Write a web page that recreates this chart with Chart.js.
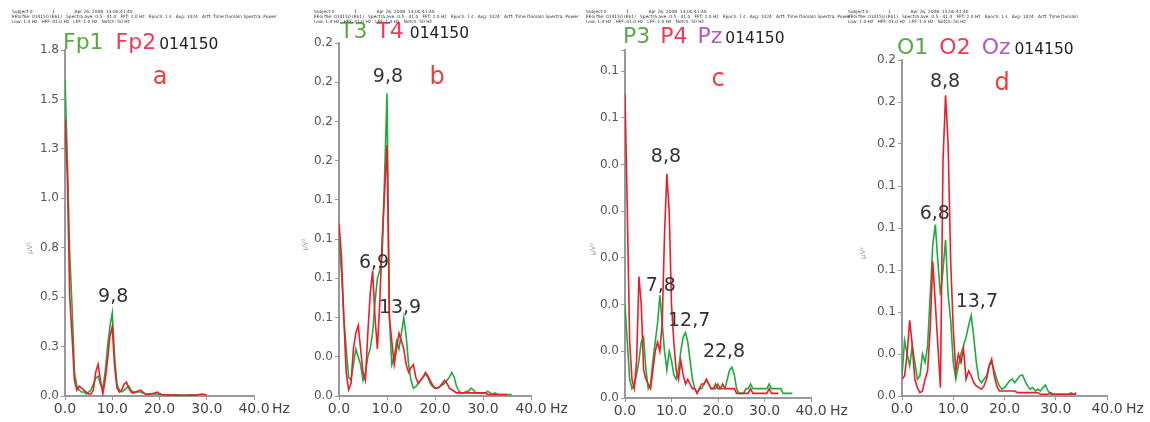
<!DOCTYPE html>
<html>
<head>
<meta charset="utf-8">
<script src="https://cdn.jsdelivr.net/npm/chart.js@4/dist/chart.umd.min.js"></script>
<style>
  body { margin: 0; background: #fff; width: 1150px; height: 422px; overflow: hidden; position: relative; font-family: "DejaVu Sans", sans-serif; }
  .panel { position: absolute; top: 0; height: 422px; }
  .hdr { position: absolute; top: 9px; font-size: 4.4px; line-height: 5px; color: #333; white-space: pre; }
</style>
</head>
<body>
<div class="panel" style="left:0;width:300px"><div class="hdr" style="left:12px">Subject 0              1              Apr 26, 2008  13:00:41:40
EEG file: 014150 (Eb1)   Spectra ave: 0.5 - 41.0   FFT: 2.0 Hz   Epoch: 1 s   Avg: 1024   Artf: Time Domain Spectra: Power
Low: 1.0 Hz   HFF: 41.0 Hz   LFF: 1.0 Hz   Notch: 50 Hz</div><canvas id="pa" width="300" height="422"></canvas></div>
<div class="panel" style="left:285px;width:285px"><div class="hdr" style="left:29px">Subject 0              1              Apr 26, 2008  13:00:41:40
EEG file: 014150 (Eb1)   Spectra ave: 0.5 - 41.0   FFT: 2.0 Hz   Epoch: 1 s   Avg: 1024   Artf: Time Domain Spectra: Power
Low: 1.0 Hz   HFF: 41.0 Hz   LFF: 1.0 Hz   Notch: 50 Hz</div><canvas id="pb" width="285" height="422"></canvas></div>
<div class="panel" style="left:570px;width:290px"><div class="hdr" style="left:16px">Subject 0              1              Apr 26, 2008  13:00:41:40
EEG file: 014150 (Eb1)   Spectra ave: 0.5 - 41.0   FFT: 2.0 Hz   Epoch: 1 s   Avg: 1024   Artf: Time Domain Spectra: Power
Low: 1.0 Hz   HFF: 41.0 Hz   LFF: 1.0 Hz   Notch: 50 Hz</div><canvas id="pc" width="290" height="422"></canvas></div>
<div class="panel" style="left:860px;width:290px"><div class="hdr" style="left:-12px">Subject 0              1              Apr 26, 2008  13:00:41:40
EEG file: 014150 (Eb1)   Spectra ave: 0.5 - 41.0   FFT: 2.0 Hz   Epoch: 1 s   Avg: 1024   Artf: Time Domain
Low: 1.0 Hz   HFF: 41.0 Hz   LFF: 1.0 Hz   Notch: 50 Hz</div><canvas id="pd" width="290" height="422"></canvas></div>

<script>
// frequency bins (Hz)
const freqHz = [0,0.5,1,1.5,2,2.5,3,3.5,4,4.5,5,5.5,6,6.5,7,7.5,8,8.5,9,9.5,
  10,10.5,11,11.5,12,12.5,13,13.5,14,14.5,15,15.5,16,16.5,17,17.5,18,18.5,19,19.5,
  20,20.5,21,21.5,22,22.5,23,23.5,24,24.5,25,25.5,26,26.5,27,27.5,28,28.5,29,29.5,
  30,30.5,31,31.5,32,32.5,33,33.5,34,34.5,35,35.5,36];

const xTickValues = [0, 10, 20, 30, 40];
const xTickLabels = ['0.0', '10.0', '20.0', '30.0', '40.0'];

// y tick labels as printed on each panel
const aTickLabels = ['0.0','0.3','0.5','0.8','1.0','1.3','1.5','1.8'];
const bTickLabels = ['0.0','0.0','0.1','0.1','0.1','0.1','0.2','0.2','0.2','0.2'];
const cTickLabels = ['0.0','0.0','0.0','0.0','0.0','0.0','0.1','0.1',''];
const dTickLabels = ['0.0','0.0','0.1','0.1','0.1','0.1','0.2','0.2','0.2'];

// a: Fp1 / Fp2
const fp1 = [1.60,1.20,0.72,0.45,0.12,0.05,0.03,0.02,0.02,0.01,
  0.02,0.03,0.06,0.09,0.10,0.06,0.04,0.12,0.25,0.35,
  0.42,0.20,0.06,0.03,0.02,0.03,0.04,0.05,0.03,0.02,
  0.02,0.02,0.02,0.015,0.01,0.01,0.012,0.01,0.012,0.01,
  0.008,0.006,0.006,0.005,0.006,0.005,0.006,0.006,0.005,0.004,
  0.004,0.004,0.005,0.006,0.005,0.005,0.004];
const fp2 = [1.40,1.10,0.50,0.30,0.08,0.03,0.05,0.04,0.03,0.02,
  0.01,0.01,0.03,0.12,0.16,0.08,0.01,0.08,0.18,0.30,
  0.35,0.15,0.04,0.02,0.03,0.06,0.07,0.04,0.02,0.015,
  0.02,0.025,0.03,0.02,0.01,0.008,0.01,0.012,0.015,0.02,
  0.012,0.008,0.006,0.005,0.006,0.005,0.004,0.004,0.005,0.004,
  0.003,0.004,0.003,0.004,0.005,0.004,0.006,0.008,0.01,0.008,
  0.005];

// b: T3 / T4
const t3 = [0.10,0.08,0.05,0.03,0.012,0.01,0.02,0.03,0.025,0.02,
  0.01,0.015,0.025,0.03,0.04,0.06,0.075,0.08,0.09,0.14,
  0.193,0.05,0.02,0.025,0.035,0.03,0.04,0.05,0.038,0.02,
  0.01,0.005,0.006,0.008,0.01,0.012,0.014,0.012,0.008,0.006,
  0.005,0.005,0.006,0.007,0.008,0.01,0.012,0.015,0.012,0.006,
  0.003,0.002,0.002,0.003,0.003,0.005,0.004,0.002,0.002,0.002,
  0.002,0.002,0.003,0.002,0.001,0.002,0.001,0.001,0.001,0.001,
  0.001,0.001,0.001];
const t4 = [0.11,0.09,0.05,0.015,0.004,0.008,0.03,0.04,0.045,0.03,
  0.015,0.01,0.04,0.065,0.08,0.05,0.03,0.06,0.10,0.13,
  0.16,0.05,0.035,0.02,0.03,0.04,0.035,0.03,0.02,0.015,
  0.018,0.02,0.012,0.008,0.01,0.012,0.015,0.013,0.01,0.007,
  0.005,0.005,0.006,0.008,0.01,0.008,0.005,0.004,0.003,0.002,
  0.002,0.002,0.002,0.002,0.002,0.002,0.002,0.002,0.002,0.002,
  0.002,0.002,0.001,0.001,0.001,0.001,0.001,0.001,0.001,0.001,
  0.001];

// c: P3 / P4
const p3 = [0.020,0.012,0.004,0.002,0.003,0.005,0.008,0.012,0.013,0.006,
  0.002,0.003,0.008,0.012,0.016,0.022,0.016,0.010,0.006,0.010,
  0.008,0.005,0.004,0.006,0.010,0.013,0.014,0.012,0.008,0.004,
  0.002,0.001,0.002,0.002,0.003,0.004,0.003,0.002,0.002,0.002,
  0.003,0.002,0.002,0.002,0.004,0.006,0.0066,0.005,0.002,0.001,
  0.001,0.001,0.002,0.002,0.003,0.002,0.002,0.002,0.002,0.002,
  0.002,0.002,0.003,0.002,0.002,0.002,0.002,0.002,0.001,0.001,
  0.001,0.001,0.001];
const p4 = [0.065,0.040,0.012,0.004,0.002,0.008,0.026,0.020,0.006,0.004,
  0.003,0.002,0.006,0.010,0.012,0.010,0.016,0.035,0.048,0.040,
  0.020,0.012,0.006,0.004,0.008,0.005,0.003,0.004,0.003,0.002,
  0.002,0.001,0.002,0.003,0.003,0.004,0.003,0.002,0.002,0.003,
  0.002,0.002,0.003,0.002,0.002,0.002,0.002,0.002,0.001,0.001,
  0.001,0.001,0.001,0.001,0.002,0.001,0.001,0.001,0.001,0.001,
  0.001,0.001,0.002,0.001,0.001,0.001,0.001];

// d: O1 / O2
const o1 = [0.012,0.033,0.025,0.018,0.030,0.020,0.010,0.012,0.025,0.020,
  0.030,0.060,0.090,0.102,0.080,0.060,0.075,0.093,0.060,0.045,
  0.020,0.010,0.018,0.025,0.030,0.035,0.042,0.048,0.035,0.020,
  0.010,0.008,0.010,0.012,0.018,0.020,0.015,0.010,0.006,0.004,
  0.005,0.007,0.009,0.010,0.008,0.010,0.012,0.0125,0.009,0.006,
  0.004,0.005,0.003,0.004,0.003,0.005,0.0065,0.003,0.001,0.001,
  0.001,0.001,0.001,0.001,0.001,0.001,0.002,0.001,0.001];
const o2 = [0.010,0.012,0.025,0.045,0.030,0.010,0.005,0.002,0.003,0.010,
  0.015,0.040,0.080,0.055,0.030,0.005,0.140,0.179,0.150,0.080,
  0.040,0.015,0.025,0.020,0.028,0.010,0.015,0.012,0.008,0.006,
  0.005,0.004,0.006,0.010,0.018,0.022,0.012,0.006,0.003,0.003,
  0.003,0.003,0.003,0.003,0.003,0.002,0.002,0.002,0.002,0.002,
  0.002,0.002,0.002,0.002,0.001,0.001,0.001,0.001,0.002,0.001,
  0.001,0.001,0.001,0.001,0.001,0.001,0.001,0.001,0.002];

// peak labels: text, Hz, value
const aPeaks = [['9,8', 10.2, 0.50]];
const bPeaks = [['9,8', 10.2, 0.203], ['6,9', 7.3, 0.085], ['13,9', 12.7, 0.056]];
const cPeaks = [['8,8', 8.8, 0.0516], ['7,8', 7.7, 0.024], ['12,7', 13.8, 0.0165], ['22,8', 21.3, 0.0098]];
const dPeaks = [['8,8', 8.4, 0.187], ['6,8', 6.4, 0.108], ['13,7', 14.6, 0.056]];

const GREEN = '#1fab3c', RED = '#ee1c2a';
const T_GREEN = '#5aa845', T_RED = '#f03a55', T_PURPLE = '#b05bbf';

const textPlugin = {
  id: 'panelText',
  afterDraw(chart, args, o) {
    const ctx = chart.ctx, xs = chart.scales.x, ys = chart.scales.y, ca = chart.chartArea;
    ctx.save();
    ctx.textBaseline = 'middle';
    // channel names
    let x = ca.left + o.titleDx;
    o.titles.forEach(([t, c, size, gap]) => {
      ctx.font = size + 'px "DejaVu Sans"';
      ctx.fillStyle = c;
      ctx.textAlign = 'left';
      ctx.fillText(t, x, o.titleY + (size < 20 ? 2 : 0));
      x += ctx.measureText(t).width + gap;
    });
    // panel letter
    ctx.font = '24px "DejaVu Sans"';
    ctx.fillStyle = '#f03c3c';
    ctx.textAlign = 'center';
    ctx.fillText(o.letter[0], o.letter[1], o.letter[2]);
    // peaks
    ctx.font = '19px "DejaVu Sans"';
    ctx.fillStyle = '#333';
    o.peaks.forEach(([t, hz, v]) => ctx.fillText(t, xs.getPixelForValue(hz), ys.getPixelForValue(v)));
    // Hz unit
    ctx.font = '14px "DejaVu Sans"';
    ctx.fillStyle = '#444';
    ctx.textAlign = 'left';
    ctx.fillText('Hz', xs.getPixelForValue(40) + o.hzDx, ca.bottom + 13);
    // y unit
    ctx.translate(ca.left - o.unitDx, (ca.top + ca.bottom) / 2 + 25);
    ctx.rotate(-Math.PI / 2);
    ctx.font = '7px "DejaVu Sans"';
    ctx.fillStyle = '#999';
    ctx.textAlign = 'center';
    ctx.fillText('\u03bcV\u00b2', 0, 0);
    ctx.restore();
  }
};

function toPoints(vals) {
  return vals.map((v, i) => ({ x: freqHz[i], y: v }));
}

function makePanel(id, box, yMax, yStep, yLabels, green, red, text) {
  const yTickValues = yLabels.map((l, i) => Math.min(i * yStep, yMax));
  new Chart(document.getElementById(id), {
    type: 'line',
    data: {
      datasets: [
        { data: toPoints(red), borderColor: RED, borderWidth: 1.6, pointRadius: 0, tension: 0 },
        { data: toPoints(green), borderColor: GREEN, borderWidth: 1.6, pointRadius: 0, tension: 0 }
      ]
    },
    options: {
      responsive: false,
      animation: false,
      layout: { padding: { left: 0, top: box.top, right: box.w - box.right, bottom: 0 } },
      plugins: { legend: { display: false }, tooltip: { enabled: false }, panelText: text },
      scales: {
        x: {
          type: 'linear', min: 0, max: 40,
          afterBuildTicks: s => { s.ticks = xTickValues.map(v => ({ value: v })); },
          afterFit: s => { s.height = 422 - box.bottom; },
          ticks: { autoSkip: false, maxRotation: 0, padding: 1, color: '#444',
                   font: { family: 'DejaVu Sans', size: 14 },
                   callback: (v, i) => xTickLabels[i] },
          grid: { drawOnChartArea: false, drawTicks: true, tickLength: 4, color: '#999' },
          border: { color: '#999', width: 2 }
        },
        y: {
          min: 0, max: yMax,
          afterBuildTicks: s => { s.ticks = yTickValues.map(v => ({ value: v })); },
          afterFit: s => { s.width = box.left; },
          ticks: { autoSkip: false, padding: 2, color: '#555',
                   font: { family: 'DejaVu Sans', size: 12 },
                   callback: (v, i) => yLabels[i] ?? '' },
          grid: { drawOnChartArea: false, drawTicks: true, tickLength: 4, color: '#999' },
          border: { color: '#999', width: 2 }
        }
      }
    },
    plugins: [textPlugin]
  });
}

makePanel('pa', { w: 300, left: 65, right: 254, top: 50, bottom: 396 }, 1.75, 0.25, aTickLabels, fp1, fp2, {
  titleDx: -2, titleY: 43, unitDx: 35, hzDx: 18, letter: ['a', 160, 78], peaks: aPeaks,
  titles: [['Fp1', T_GREEN, 22, 12], ['Fp2', T_RED, 22, 3], ['014150', '#222', 15.5, 0]]
});
makePanel('pb', { w: 285, left: 54, right: 246, top: 43, bottom: 396 }, 0.225, 0.025, bTickLabels, t3, t4, {
  titleDx: 1, titleY: 32, unitDx: 34, hzDx: 19, letter: ['b', 152, 78], peaks: bPeaks,
  titles: [['T3', T_GREEN, 22, 9], ['T4', T_RED, 22, 6], ['014150', '#222', 15.5, 0]]
});
makePanel('pc', { w: 290, left: 55, right: 241, top: 50, bottom: 398 }, 0.0745, 0.01, cTickLabels, p3, p4, {
  titleDx: -2, titleY: 37, unitDx: 32, hzDx: 19, letter: ['c', 148, 80], peaks: cPeaks,
  titles: [['P3', T_GREEN, 22, 10], ['P4', T_RED, 22, 10], ['Pz', T_PURPLE, 22, 3], ['014150', '#222', 15.5, 0]]
});
makePanel('pd', { w: 290, left: 42, right: 247, top: 60, bottom: 396 }, 0.2, 0.025, dTickLabels, o1, o2, {
  titleDx: -5, titleY: 48, unitDx: 39, hzDx: 19, letter: ['d', 142, 84], peaks: dPeaks,
  titles: [['O1', T_GREEN, 22, 11], ['O2', T_RED, 22, 11], ['Oz', T_PURPLE, 22, 4], ['014150', '#222', 15.5, 0]]
});
</script>
</body>
</html>
